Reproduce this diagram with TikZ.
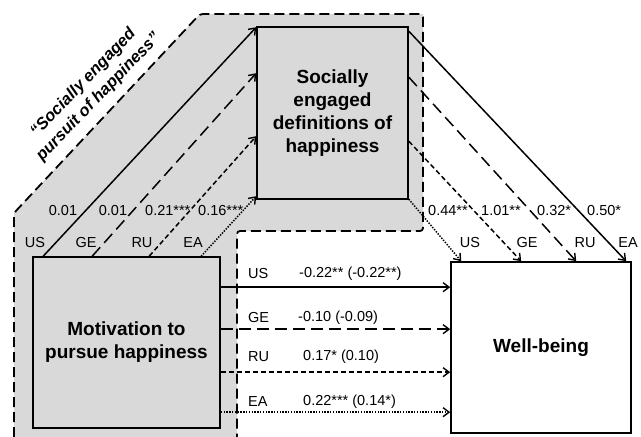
\documentclass[tikz,border=0pt]{standalone}
\usepackage{fontspec}
\setmainfont{Liberation Sans}
\usetikzlibrary{arrows.meta,calc}
\definecolor{regiongray}{HTML}{D9D9D9}
\tikzset{
  boxnode/.style={draw=black, line width=1.6pt, inner sep=0pt, align=center,
    font=\fontsize{19}{23}\selectfont\bfseries},
  conn/.style={line width=1.5pt, -{Straight Barb[length=6pt,width=9pt,line width=1.4pt]}},
  llong/.style={dash pattern=on 12pt off 6pt},
  lshort/.style={dash pattern=on 5pt off 3pt},
  ldot/.style={dash pattern=on 1.4pt off 1.4pt},
  lbl/.style={inner sep=0pt, font=\fontsize{14.5}{17}\selectfont},
  region/.style={draw=black, line width=1.8pt, dash pattern=on 10pt off 5pt, rounded corners=3pt}
}
\begin{document}
\begin{tikzpicture}[x=1pt,y=-1pt]
\useasboundingbox (0,0) rectangle (641,437);
% shaded region
\fill[regiongray] (14,437) -- (14,213) -- (200,14) -- (423,14) -- (423,231) -- (237,231) -- (237,437) -- cycle;
% boxes
\node[boxnode, fill=regiongray, minimum width=151pt, minimum height=172pt] (def) at (332.5,113)
  {Socially\\engaged\\definitions of\\happiness};
\node[boxnode, fill=regiongray, minimum width=187pt, minimum height=171pt] (mot) at (126.5,342.5)
  {Motivation to\\pursue happiness};
\node[boxnode, fill=white, minimum width=180pt, minimum height=171pt] (wb) at (541,347.5)
  {Well-being};
% region border
\draw[region] (14,437) -- (14,213) -- (200,14) -- (423,14) -- (423,231) -- (237,231) -- (237,437);
% label of region
\node[rotate=46, align=center, inner sep=0pt,
  font=\fontsize{16.5}{21}\selectfont\bfseries\itshape] (reglbl) at (91,90)
  {“Socially engaged\\pursuit of happiness”};
% motivation -> definitions
\draw[conn] ($(mot.north west)+(11,0)$) -- ($(def.north west)+(0,1)$);
\draw[conn,llong] ($(mot.north west)+(60,0)$) -- ($(def.north west)+(0,47)$);
\draw[conn,lshort] ($(mot.north west)+(117,0)$) -- ($(def.north west)+(0,110)$);
\draw[conn,ldot] ($(mot.north west)+(169,0)$) -- ($(def.north west)+(0,170)$);
% definitions -> well-being
\draw[conn] ($(def.north east)+(0,5)$) -- ($(wb.north west)+(176,0)$);
\draw[conn,llong] ($(def.north east)+(0,51)$) -- ($(wb.north west)+(126,0)$);
\draw[conn,lshort] ($(def.north east)+(0,115)$) -- ($(wb.north west)+(71,0)$);
\draw[conn,ldot] ($(def.north east)+(0,173)$) -- ($(wb.north west)+(11,0)$);
% motivation -> well-being
\draw[conn] ($(mot.north east)+(0,31)$) -- ($(wb.north west)+(0,26)$);
\draw[conn,llong] ($(mot.north east)+(0,73)$) -- ($(wb.north west)+(0,68)$);
\draw[conn,lshort] ($(mot.north east)+(0,116)$) -- ($(wb.north west)+(0,111)$);
\draw[conn,ldot] ($(mot.north east)+(0,156)$) -- ($(wb.north west)+(0,151)$);
% labels left diagonal
\node[lbl] (c1) at (63,211) {0.01};
\node[lbl] (c2) at (113,211) {0.01};
\node[lbl, anchor=west] (c3) at (145,211) {0.21***};
\node[lbl, anchor=west] (c4) at (198,211) {0.16***};
\node[lbl] (m1) at (35,243) {US};
\node[lbl] (m2) at (86,243) {GE};
\node[lbl] (m3) at (142,243) {RU};
\node[lbl] (m4) at (193,243) {EA};
% labels right diagonal
\node[lbl, anchor=west] (d1) at (428,211) {0.44**};
\node[lbl, anchor=west] (d2) at (481,211) {1.01**};
\node[lbl, anchor=west] (d3) at (537,211) {0.32*};
\node[lbl, anchor=west] (d4) at (587,211) {0.50*};
\node[lbl] (w1) at (470,243) {US};
\node[lbl] (w2) at (527,243) {GE};
\node[lbl] (w3) at (585,243) {RU};
\node[lbl] (w4) at (628,243) {EA};
% labels horizontal
\node[lbl, anchor=west] (h1) at (248,274) {US};
\node[lbl, anchor=west] (h2) at (248,318) {GE};
\node[lbl, anchor=west] (h3) at (248,357) {RU};
\node[lbl, anchor=west] (h4) at (248,402) {EA};
\node[lbl, anchor=west] (k1) at (299,274) {-0.22** (-0.22**)};
\node[lbl, anchor=west] (k2) at (298,318) {-0.10 (-0.09)};
\node[lbl, anchor=west] (k3) at (303,357) {0.17* (0.10)};
\node[lbl, anchor=west] (k4) at (303,402) {0.22*** (0.14*)};
\end{tikzpicture}
\end{document}
